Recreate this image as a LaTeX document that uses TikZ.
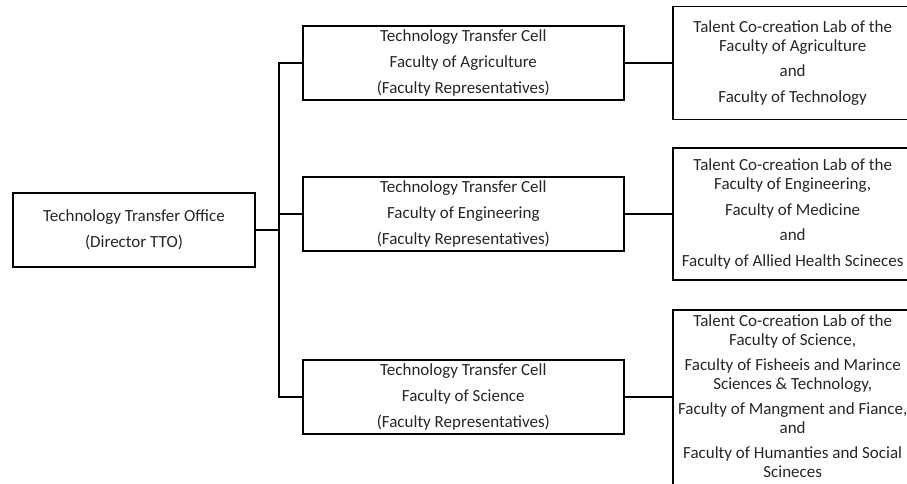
\documentclass[tikz,border=0pt]{standalone}
\usepackage{fontspec}
\setmainfont{Carlito}
\usetikzlibrary{positioning}

\begin{document}
\begin{tikzpicture}[x=0.75pt,y=-0.75pt,node distance=247pt,on grid,
    box/.style={draw,line width=1.4pt,align=center,text=black!85,
      font=\fontsize{12.75}{14.25}\selectfont,inner sep=0pt},
    cell/.style={box,minimum width=240.75pt,minimum height=55.5pt},
    lab/.style={box,minimum width=180pt},
    wire/.style={line width=1.4pt}]
		\useasboundingbox (0,0) rectangle (907,483);
		\clip (0,0) rectangle (907,483);
		\node[box, minimum width=181.5pt, minimum height=55.5pt] (tto) at (134,230)
		  {Technology Transfer Office\\[5pt](Director TTO)};
		\node[cell, above right = 12pt and 247pt of tto] (eng)
		  {Technology Transfer Cell\\[5pt]Faculty of Engineering\\[5pt](Faculty Representatives)};
		\node[cell, above = 113.25pt of eng] (agri)
		  {Technology Transfer Cell\\[5pt]Faculty of Agriculture\\[5pt](Faculty Representatives)};
		\node[cell, below = 137.25pt of eng] (sci)
		  {Technology Transfer Cell\\[5pt]Faculty of Science\\[5pt](Faculty Representatives)};
		
		\node[lab, right = of agri, minimum height=84.75pt] (agrilab)
		  {Talent Co-creation Lab of the\\Faculty of Agriculture\\[5pt]and\\[5pt]Faculty of Technology};
		\node[lab, right = of eng, minimum height=99pt] (englab)
		  {Talent Co-creation Lab of the\\Faculty of Engineering,\\[5pt]Faculty of Medicine\\[5pt]and\\[5pt]Faculty of Allied Health Scineces};
		\node[lab, right = of sci, minimum height=134pt, yshift=-1.5pt, text depth=5pt] (scilab)
		  {Talent Co-creation Lab of the\\Faculty of Science,\\[4.5pt]Faculty of Fisheeis and Marince\\Sciences \& Technology,\\[4.5pt]Faculty of Mangment and Fiance,\\and\\[4.5pt]Faculty of Humanties and Social\\Scineces};
		
		\draw[wire] (tto.east) -- ++(23,0) coordinate (hub);
		\draw[wire] (agri.west) -| (hub) |- (sci.west);
		\draw[wire] (eng.west) -- (eng.west -| hub);
		\draw[wire] (agri.east) -- (agri.east -| agrilab.west);
		\draw[wire] (eng.east) -- (eng.east -| englab.west);
		\draw[wire] (sci.east) -- (sci.east -| scilab.west);
	\end{tikzpicture}
\end{document}
